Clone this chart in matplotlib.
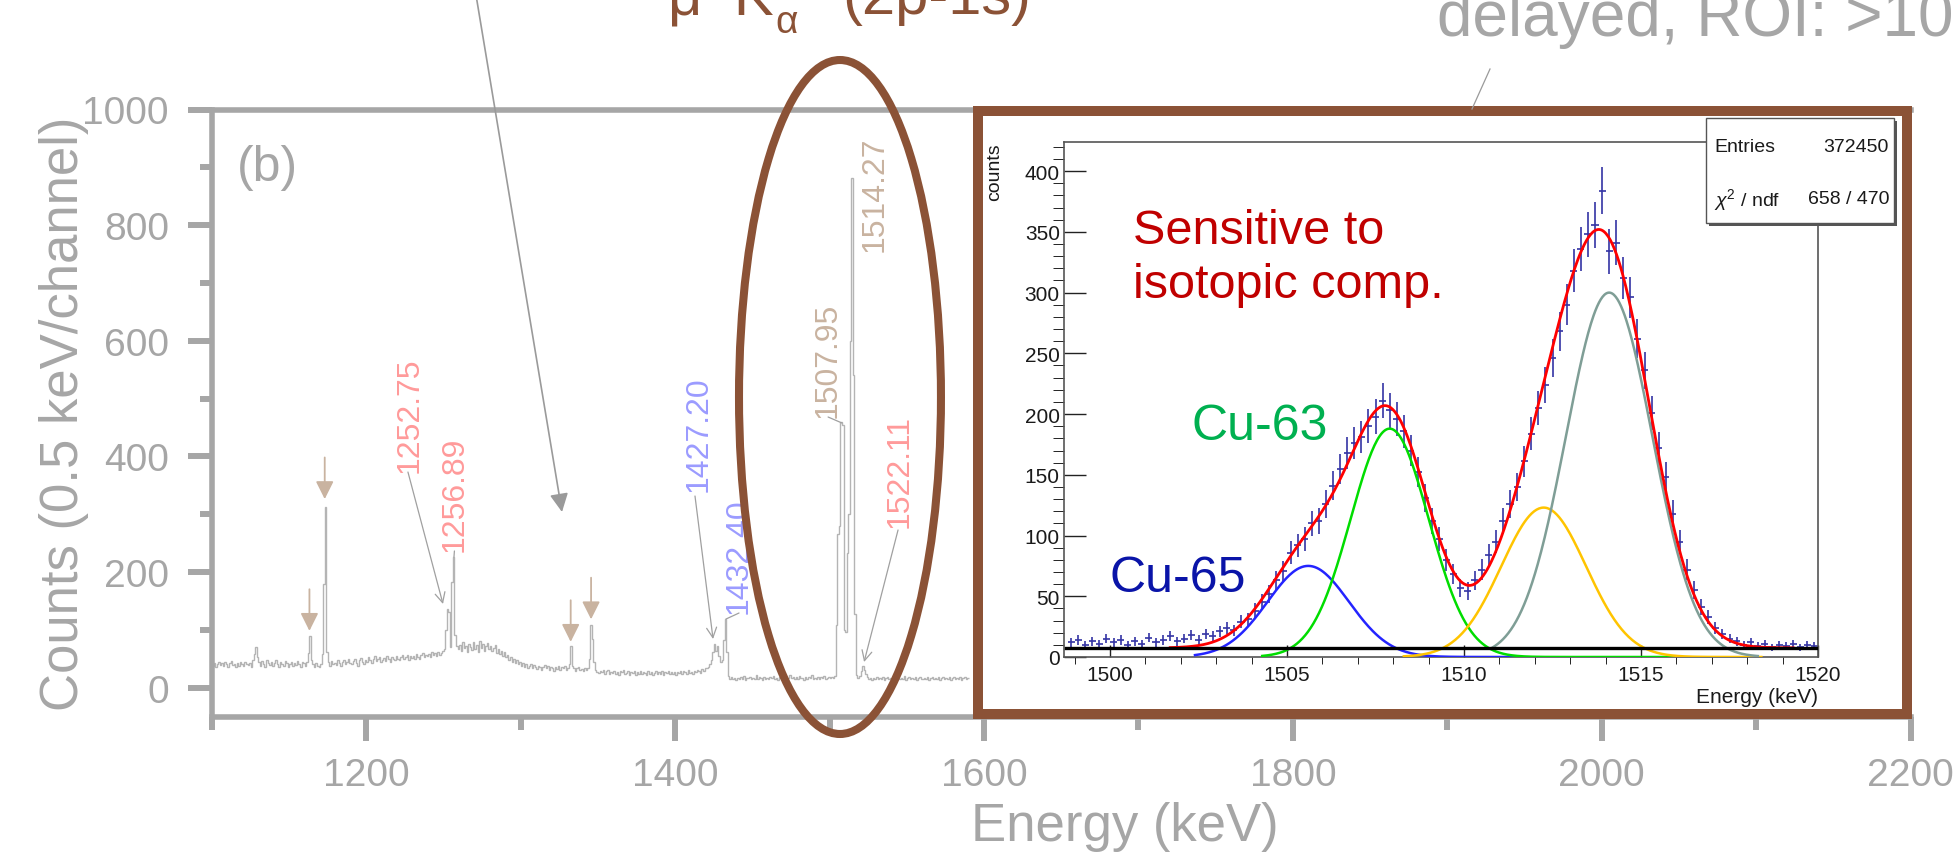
# coding=utf-8
# μ- Kα (2p-1s) spectrum with Cu isotope fit inset

import numpy as np
import matplotlib
matplotlib.use('Agg')
import matplotlib.pyplot as plt
from matplotlib.patches import Ellipse, Rectangle
from matplotlib.ticker import MultipleLocator

plt.rcParams['font.family'] = ['Liberation Sans', 'DejaVu Sans']
plt.rcParams['mathtext.fontset'] = 'custom'
plt.rcParams['mathtext.rm'] = 'Liberation Sans'
plt.rcParams['mathtext.it'] = 'Liberation Sans:italic'

# main spectrum, 1 keV per bin starting at 1100 keV
spec_start = 1100
spec_counts = [
    38, 43, 36, 41, 45, 39, 42, 37, 44, 40,
    36, 42, 46, 39, 41, 35, 43, 38, 44, 40,
    37, 45, 41, 39, 43, 36, 48, 58, 70, 52,
    44, 38, 46, 40, 35, 47, 42, 39, 44, 37,
    43, 48, 40, 36, 45, 41, 38, 46, 42, 35,
    40, 44, 37, 43, 39, 46, 41, 36, 44, 42,
    38, 45, 60, 89, 48, 40, 35, 43, 38, 36,
    41, 58, 179, 313, 62, 44, 38, 46, 40, 43,
    39, 47, 42, 37, 45, 48, 41, 44, 50, 43,
    40, 46, 49, 42, 38, 47, 51, 44, 41, 48,
    45, 52, 47, 43, 50, 55, 46, 49, 53, 44,
    48, 51, 46, 54, 49, 45, 52, 50, 47, 55,
    50, 47, 53, 57, 49, 52, 56, 48, 54, 51,
    55, 50, 58, 53, 49, 56, 60, 52, 57, 54,
    58, 53, 61, 56, 59, 55, 62, 57, 60, 64,
    66, 100, 136, 130, 70, 182, 226, 90, 72, 66,
    74, 63, 79, 68, 72, 61, 76, 70, 65, 78,
    67, 73, 62, 80, 69, 75, 64, 71, 77, 66,
    72, 63, 69, 74, 60, 67, 58, 64, 55, 61,
    52, 57, 48, 53, 45, 50, 42, 47, 40, 44,
    38, 42, 35, 40, 33, 37, 41, 34, 39, 36,
    32, 38, 35, 30, 36, 39, 33, 37, 31, 35,
    34, 29, 36, 32, 38, 30, 35, 33, 37, 31,
    33, 40, 72, 38, 34, 29, 33, 36, 30, 32,
    28, 34, 31, 33, 50, 108, 84, 45, 30, 27,
    25, 29, 26, 31, 24, 28, 30, 23, 27, 25,
    29, 24, 27, 22, 28, 26, 30, 23, 25, 28,
    22, 27, 25, 29, 21, 26, 24, 28, 23, 26,
    25, 22, 28, 24, 27, 21, 25, 29, 23, 26,
    24, 28, 22, 26, 25, 29, 23, 27, 24, 26,
    22, 27, 25, 29, 24, 28, 26, 23, 30, 25,
    27, 24, 29, 26, 31, 28, 25, 32, 29, 34,
    34, 36, 40, 48, 62, 75, 64, 71, 55, 45,
    48, 82, 118, 62, 20, 15, 18, 14, 17, 13,
    16, 14, 18, 15, 20, 13, 17, 16, 19, 14,
    17, 15, 21, 14, 18, 16, 13, 19, 15, 17,
    14, 18, 16, 20, 15, 17, 13, 19, 16, 22,
    15, 18, 14, 17, 21, 16, 19, 15, 18, 14,
    20, 16, 17, 13, 19, 15, 18, 16, 21, 14,
    17, 15, 19, 14, 18, 16, 20, 15, 17, 19,
    16, 18, 17, 20, 109, 265, 280, 459, 455, 99,
    96, 232, 300, 600, 881, 540, 128, 22, 17, 20,
    28, 37, 30, 24, 18, 15, 17, 13, 16, 14,
    18, 14, 17, 15, 19, 13, 16, 18, 14, 17,
    15, 19, 13, 16, 18, 14, 17, 15, 20, 13,
    16, 18, 14, 17, 15, 19, 13, 16, 18, 15,
    14, 17, 15, 19, 13, 16, 18, 14, 17, 15,
    19, 13, 16, 18, 14, 17, 15, 19, 13, 16,
    18, 14, 17, 15, 19, 13, 16, 18, 14, 17,
]

# labelled peaks and where their leader lines point (keV, counts)
peak_labels = ['1252.75', '1256.89', '1427.20', '1432.40', '1507.95', '1514.27', '1522.11']
peak_colors = ['#ff9a9a', '#ff9a9a', '#9b9bff', '#9b9bff', '#c9b3a0', '#c9b3a0', '#ff9a9a']
peak_tip_e = [1249.6, 1256.7, 1424.5, 1432.9, 1508.0, None, 1522.3]
peak_tip_c = [144.5, 225.8, 83.9, 118.5, 457.6, None, 44.1]

# peaks marked with small down arrows
marked_e = [1163.1, 1173.0, 1332.3, 1345.5]
marked_c = [98, 326, 79, 118]

# inset: zoom on 1500-1520 keV, 0.2 keV per point
inset_e_lo, inset_e_hi = 1498.9, 1519.9
inset_counts = [
    12, 14, 10, 13, 11, 15, 12, 14, 10, 13,
    11, 16, 12, 14, 17, 13, 15, 18, 14, 19,
    17, 21, 24, 22, 29, 31, 38, 45, 52, 63,
    71, 86, 92, 97, 110, 112, 126, 141, 155, 168,
    176, 181, 190, 198, 211, 203, 196, 186, 170, 152,
    131, 112, 97, 80, 68, 57, 54, 63, 72, 84,
    95, 112, 126, 140, 161, 184, 205, 224, 246, 268,
    290, 318, 336, 348, 356, 384, 334, 341, 312, 296,
    262, 236, 201, 172, 148, 118, 95, 72, 55, 41,
    33, 24, 19, 15, 13, 10, 12, 9, 11, 8,
    10, 9, 11, 8, 10, 9,
]

# fit components (Cu-65, Cu-63, and the two 2p3/2 lines)
fit_centers = [1505.6, 1507.9, 1512.25, 1514.1]
fit_heights = [75, 188, 123, 300]
fit_sigmas = [1.15, 1.1, 1.2, 1.22]
fit_ranges = [(1502.4, 1511.5), (1504.3, 1516.0), (1508.3, 1518.4), (1510.8, 1518.3)]
fit_colors = ['#2424ff', '#00dd00', '#ffc400', '#7f9e96']
fit_bg = 7.5
fit_range = (1501.7, 1519.3)

GREY = '#a6a6a6'
BROWN = '#8b5236'
W, H = 1959, 853


def fx(px):
    return px / W


def fy(py):
    return 1 - py / H


def gauss(x, mu, a, s):
    return a * np.exp(-(x - mu) ** 2 / (2 * s * s))


def draw_main(fig):
    """主谱"""
    ax = fig.add_axes([fx(212), fy(718), 1698.5 / W, 607.5 / H])
    edges = np.arange(spec_start, spec_start + len(spec_counts) + 1)
    ax.stairs(spec_counts, edges, color='#b4b4b4', lw=1.0, baseline=None)

    ax.set_xlim(1100, 2200)
    ax.set_ylim(-51, 1000)
    for s in ['left', 'bottom', 'top']:
        ax.spines[s].set_color(GREY)
        ax.spines[s].set_linewidth(4)
    ax.spines['right'].set_visible(False)
    ax.xaxis.set_major_locator(MultipleLocator(200))
    ax.xaxis.set_minor_locator(MultipleLocator(100))
    ax.yaxis.set_major_locator(MultipleLocator(200))
    ax.yaxis.set_minor_locator(MultipleLocator(100))
    ax.tick_params(which='major', length=17, width=4.3, color=GREY,
                   labelcolor=GREY, labelsize=28)
    ax.tick_params(which='minor', length=9, width=4.3, color=GREY)
    ax.tick_params(axis='y', which='major', pad=14)
    ax.tick_params(axis='x', which='major', pad=12)

    ax.text(0.0147, 0.905, '(b)', transform=ax.transAxes, fontsize=36,
            color=GREY, va='center', ha='left')

    # small down arrows
    for e, c in zip(marked_e, marked_c):
        ax.annotate('', xy=(e, c), xytext=(e, c + 72),
                    arrowprops=dict(arrowstyle='-|>', color='#c9b3a0', lw=1.3,
                                    mutation_scale=27, shrinkA=0, shrinkB=0))

    # peak energy labels
    text_e = [1228.2, 1257.4, 1415.4, 1441.3, 1499.0, 1529.4, 1545.6]
    text_c = [372.8, 236.2, 340, 128.9, 468, 755, 277.7]
    start_e = [1226.9, 1257.0, 1412.8, 1441.3, 1499.0, None, 1544.3]
    start_c = [372.8, 236.2, 331.3, 128.9, 468, None, 272.5]
    styles = ['->', '-', '->', '-', '-', None, '->']
    for i, lab in enumerate(peak_labels):
        ax.text(text_e[i], text_c[i], lab, rotation=90, fontsize=23,
                color=peak_colors[i], ha='center', va='bottom', zorder=4)
        if peak_tip_e[i] is None:
            continue
        ax.annotate('', xy=(peak_tip_e[i], peak_tip_c[i]),
                    xytext=(start_e[i], start_c[i]),
                    arrowprops=dict(arrowstyle=styles[i], color='#a0a0a0',
                                    lw=0.9, mutation_scale=18,
                                    shrinkA=0, shrinkB=0))

    # ellipse around the Kα doublet
    ax.add_patch(Ellipse((1506.7, 502.6), 130.8, 1166, fill=False,
                         edgecolor=BROWN, lw=5.8, clip_on=False, zorder=6))

    # long grey arrow from the top
    ax.annotate('', xy=(562, H - 513), xycoords='figure pixels',
                xytext=(475, H + 10), textcoords='figure pixels',
                arrowprops=dict(arrowstyle='-|>', color='#9a9a9a', lw=1.2,
                                mutation_scale=28, shrinkA=0, shrinkB=0),
                annotation_clip=False)
    return ax


def draw_inset(fig):
    """插图：拟合"""
    # brown frame
    fig.add_artist(Rectangle((fx(978), fy(715)), 929 / W, 603 / H,
                             transform=fig.transFigure, facecolor='white',
                             edgecolor=BROWN, lw=7.2, zorder=2))

    axin = fig.add_axes([fx(1064), fy(658), 754 / W, 515 / H])
    axin.set_zorder(3)

    ie = np.linspace(inset_e_lo, inset_e_hi, len(inset_counts))
    ic = np.array(inset_counts, dtype=float)
    axin.errorbar(ie, ic, yerr=np.sqrt(ic), xerr=0.1, fmt='none',
                  ecolor='#3434a4', elinewidth=1.2, capsize=0, zorder=2)

    for mu, a, s, (lo, hi), col in zip(fit_centers, fit_heights, fit_sigmas,
                                       fit_ranges, fit_colors):
        x = np.linspace(lo, hi, 300)
        axin.plot(x, gauss(x, mu, a, s), color=col, lw=1.8, zorder=3)

    x = np.linspace(fit_range[0], fit_range[1], 600)
    total = fit_bg + sum(gauss(x, mu, a, s) for mu, a, s in
                         zip(fit_centers, fit_heights, fit_sigmas))
    axin.plot(x, total, color='#ff0000', lw=2.0, zorder=4)
    axin.plot([1498.75, 1520], [fit_bg, fit_bg], color='black', lw=2.4, zorder=4)

    axin.set_xlim(1498.7, 1520)
    axin.set_ylim(0, 424)
    axin.xaxis.set_major_locator(MultipleLocator(5))
    axin.xaxis.set_minor_locator(MultipleLocator(1))
    axin.yaxis.set_major_locator(MultipleLocator(50))
    axin.yaxis.set_minor_locator(MultipleLocator(10))
    axin.tick_params(direction='in', labelsize=15, labelcolor='#1a1a1a',
                     color='#222222', width=1.0)
    axin.tick_params(axis='y', which='major', length=16, pad=3)
    axin.tick_params(axis='y', which='minor', length=8)
    axin.tick_params(axis='x', which='major', length=9, pad=6)
    axin.tick_params(axis='x', which='minor', length=5)
    for s in axin.spines.values():
        s.set_color('#555555')
        s.set_linewidth(1.2)

    axin.text(-0.0915, 1.0, 'counts', transform=axin.transAxes, rotation=90,
              fontsize=14, ha='center', va='top', color='#1a1a1a')
    axin.text(1.0, -0.058, 'Energy (keV)', transform=axin.transAxes,
              fontsize=15, ha='right', va='top', color='#1a1a1a')

    # annotations inside
    fig.text(fx(1133), fy(298), 'Sensitive to\nisotopic comp.', fontsize=35,
             color='#c00000', ha='left', va='baseline', linespacing=1.25,
             zorder=6)
    fig.text(fx(1191), fy(440), 'Cu-63', fontsize=36, color='#00b050',
             ha='left', va='baseline', zorder=6)
    fig.text(fx(1109), fy(592), 'Cu-65', fontsize=36, color='#0a14a8',
             ha='left', va='baseline', zorder=6)

    # stat box
    fig.add_artist(Rectangle((fx(1709), fy(227)), 188 / W, 105 / H,
                             transform=fig.transFigure, facecolor='#555555',
                             edgecolor='none', zorder=4))
    fig.add_artist(Rectangle((fx(1706), fy(224)), 188 / W, 105 / H,
                             transform=fig.transFigure, facecolor='white',
                             edgecolor='#555555', lw=1.0, zorder=4))
    fig.text(fx(1714), fy(147), 'Entries', fontsize=14, color='#1a1a1a',
             ha='left', va='center', zorder=5)
    fig.text(fx(1889), fy(147), '372450', fontsize=14, color='#1a1a1a',
             ha='right', va='center', zorder=5)
    fig.text(fx(1714), fy(200), r'$\chi^2$ / ndf', fontsize=14, color='#1a1a1a',
             ha='left', va='center', zorder=5)
    fig.text(fx(1889), fy(200), '658 / 470', fontsize=14, color='#1a1a1a',
             ha='right', va='center', zorder=5)


def main():
    fig = plt.figure(figsize=(W / 100, H / 100), dpi=100)

    draw_main(fig)
    draw_inset(fig)

    # axis titles
    fig.text(fx(64), fy(414), 'Counts (0.5 keV/channel)', rotation=90,
             fontsize=38, color=GREY, ha='center', va='center')
    fig.text(fx(1125), fy(827), 'Energy (keV)', fontsize=38, color=GREY,
             ha='center', va='center')

    # top texts, cut by the figure edge as in the original crop
    fig.text(fx(668), fy(14), 'μ⁻K', fontsize=43, color=BROWN,
             ha='left', va='baseline')
    fig.text(fx(775), fy(33), 'α', fontsize=28, color=BROWN,
             ha='left', va='baseline')
    fig.text(fx(842), fy(14), '(2p-1s)', fontsize=43, color=BROWN,
             ha='left', va='baseline')
    fig.text(fx(1437), fy(36), 'delayed, ROI: >10', fontsize=46, color=GREY,
             ha='left', va='baseline')

    # leader line to the inset
    fig.add_artist(plt.Line2D([fx(1490), fx(1472)], [fy(70), fy(110)],
                              transform=fig.transFigure, color='#9a9a9a',
                              lw=0.9))

    fig.savefig('out.png', dpi=100)


if __name__ == '__main__':
    main()
